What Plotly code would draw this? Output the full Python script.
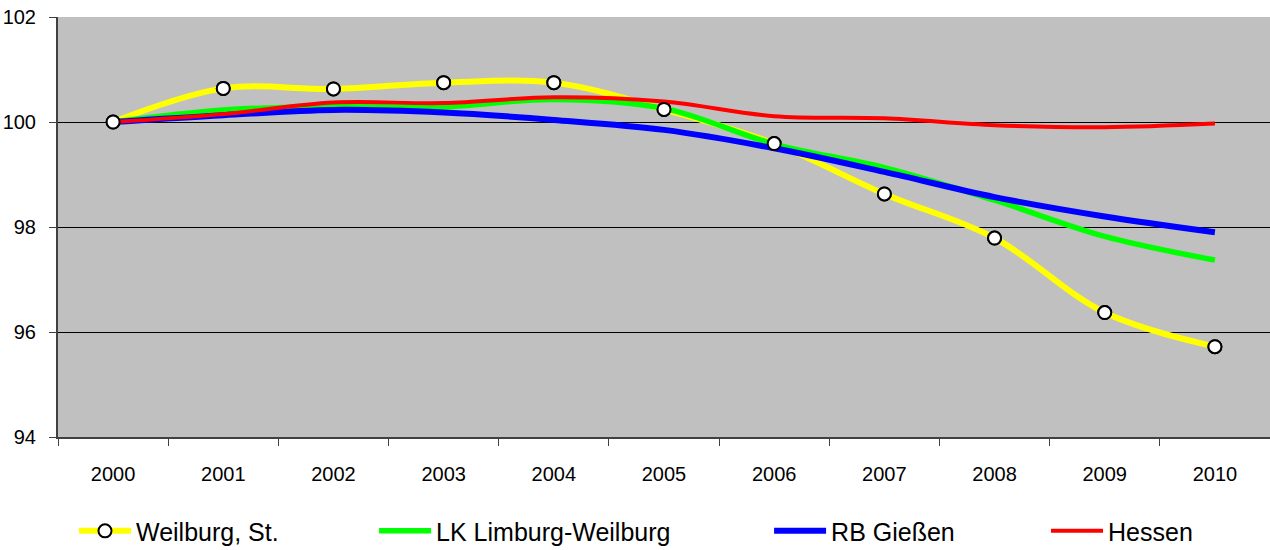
import plotly.graph_objects as go

years = ["2000", "2001", "2002", "2003", "2004", "2005", "2006", "2007", "2008", "2009", "2010"]
weilburg = [100.0, 100.64, 100.63, 100.75, 100.75, 100.24, 99.59, 98.63, 97.79, 96.37, 95.72]
lk_limburg = [100.0, 100.23, 100.29, 100.29, 100.43, 100.26, 99.58, 99.13, 98.51, 97.82, 97.37]
rb_giessen = [100.0, 100.13, 100.23, 100.18, 100.04, 99.85, 99.5, 99.05, 98.57, 98.2, 97.9]
hessen = [100.0, 100.15, 100.37, 100.36, 100.47, 100.39, 100.11, 100.07, 99.94, 99.9, 99.97]
y_ticks = [94, 96, 98, 100, 102]

FONT = "Liberation Sans, Arial, sans-serif"

fig = go.Figure()
fig.add_trace(go.Scatter(
    x=years, y=weilburg, name="Weilburg, St.", mode="lines+markers", legend="legend",
    line=dict(color="#FFFF00", width=6, shape="spline", smoothing=1),
    marker=dict(symbol="circle", size=13, color="white", line=dict(color="black", width=2)),
))
fig.add_trace(go.Scatter(
    x=years, y=lk_limburg, name="LK Limburg-Weilburg", mode="lines", legend="legend2",
    line=dict(color="#00FF00", width=5.5, shape="spline", smoothing=1),
))
fig.add_trace(go.Scatter(
    x=years, y=rb_giessen, name="RB Gießen", mode="lines", legend="legend3",
    line=dict(color="#0000FF", width=6, shape="spline", smoothing=1),
))
fig.add_trace(go.Scatter(
    x=years, y=hessen, name="Hessen", mode="lines", legend="legend4",
    line=dict(color="#FF0000", width=4, shape="spline", smoothing=1),
))
# markers on top of all lines
fig.add_trace(go.Scatter(
    x=years, y=weilburg, mode="markers", showlegend=False, hoverinfo="skip",
    marker=dict(symbol="circle", size=13, color="white", line=dict(color="black", width=2)),
))

def leg(xpos):
    return dict(
        orientation="h", x=xpos, xanchor="left", y=-0.224, yanchor="middle",
        font=dict(size=25, family=FONT), itemwidth=52,
        bgcolor="rgba(0,0,0,0)",
    )

fig.update_layout(
    width=1270, height=550,
    margin=dict(l=58, r=0, t=17, b=113, autoexpand=False),
    paper_bgcolor="white",
    plot_bgcolor="#C0C0C0",
    font=dict(family=FONT, color="black"),
    showlegend=True,
    legend=leg(0.0132),
    legend2=leg(0.2608),
    legend3=leg(0.5867),
    legend4=leg(0.8152),
    xaxis=dict(
        type="category", range=[-0.5, 10.5], tickson="boundaries",
        ticks="outside", ticklen=7, tickcolor="#404040",
        showline=True, linecolor="#404040", linewidth=2,
        showgrid=False, tickfont=dict(size=20), fixedrange=True,
        automargin=False, ticklabelstandoff=18,
    ),
    yaxis=dict(
        range=[94, 102], tickvals=y_ticks,
        ticks="outside", ticklen=7, tickcolor="#404040",
        showline=True, linecolor="#404040", linewidth=2,
        showgrid=True, gridcolor="black", gridwidth=1,
        zeroline=False, tickfont=dict(size=20),
        automargin=False, ticklabelstandoff=9, ticklabeloverflow="allow",
    ),
)

fig.write_html(
    "out.html",
    config={"displayModeBar": False},
    post_script="document.body.style.margin='0';document.body.style.overflow='hidden';",
)
